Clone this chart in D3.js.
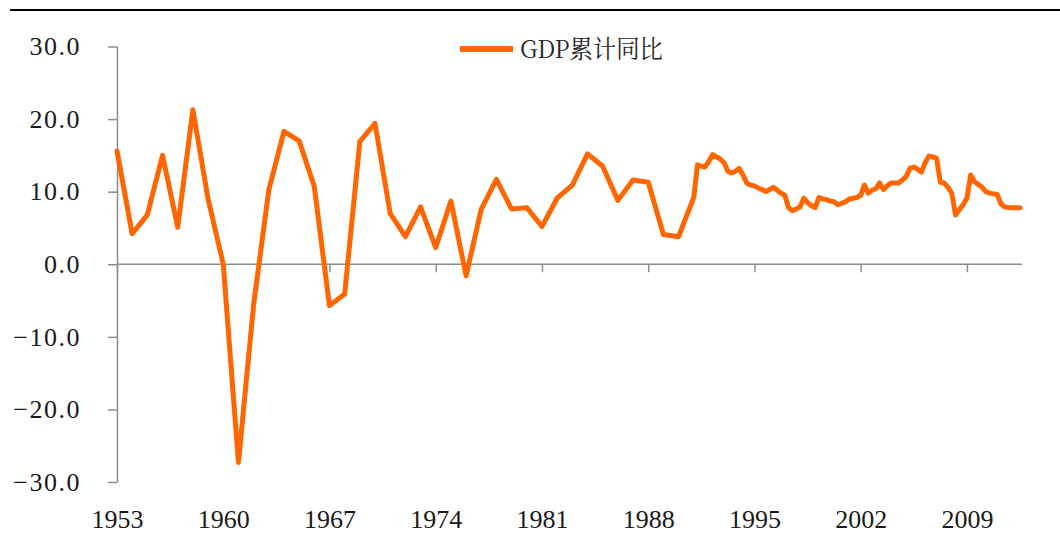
<!DOCTYPE html>
<html>
<head>
<meta charset="utf-8">
<script src="https://cdn.jsdelivr.net/npm/d3@7"></script>
<style>
  body { margin: 0; background: #fff; }
  svg { display: block; }
</style>
</head>
<body>
<svg id="chart" width="1060" height="544"></svg>
<script>
// annual growth 1953-1991, then cumulative quarterly yoy 1992Q1-2013Q2
var annualYears = d3.range(1953, 1992);
var annualGrowth = [15.6, 4.2, 6.8, 15.0, 5.1, 21.3, 9.0, 0.0, -27.3, -5.6,
                    10.2, 18.3, 17.0, 10.7, -5.7, -4.1, 16.9, 19.4, 7.0, 3.8,
                    7.9, 2.3, 8.7, -1.6, 7.6, 11.7, 7.6, 7.8, 5.2, 9.1,
                    10.9, 15.2, 13.5, 8.8, 11.6, 11.3, 4.1, 3.8, 9.2];

var quarterYears = d3.range(1992, 2014);
var quarterGrowth = [
  13.7, 13.5, 13.4, 14.2,   // 1992
  15.1, 14.8, 14.5, 14.0,   // 1993
  12.8, 12.6, 12.8, 13.2,   // 1994
  12.3, 11.2, 10.9, 10.8,   // 1995
  10.5, 10.3, 10.0, 10.3,   // 1996
  10.6, 10.2, 9.8, 9.5,     // 1997
  7.8, 7.4, 7.6, 7.9,       // 1998
  9.1, 8.5, 8.1, 7.8,       // 1999
  9.2, 9.0, 8.9, 8.7,       // 2000
  8.6, 8.2, 8.4, 8.6,       // 2001
  9.0, 9.1, 9.2, 9.5,       // 2002
  10.9, 9.8, 10.2, 10.4,    // 2003
  11.2, 10.3, 10.8, 11.2,   // 2004
  11.2, 11.2, 11.6, 12.1,   // 2005
  13.2, 13.4, 13.1, 12.7,   // 2006
  14.0, 14.9, 14.8, 14.6,   // 2007
  11.3, 11.2, 10.6, 9.8,    // 2008
  6.8, 7.5, 8.2, 9.1,       // 2009
  12.3, 11.4, 11.0, 10.6,   // 2010
  10.0, 9.8, 9.7, 9.6,      // 2011
  8.3, 7.9, 7.8, 7.8,       // 2012
  7.8, 7.8                  // 2013
];

var xTickYears = [1953, 1960, 1967, 1974, 1981, 1988, 1995, 2002, 2009];
var yTickValues = [-30, -20, -10, 0, 10, 20, 30];
var seriesName = "GDP累计同比";

// annual points sit on year end, quarterly points on quarter end
var points = [];
annualYears.forEach(function(y, i) {
  points.push({date: new Date(y, 11, 31), value: annualGrowth[i]});
});
quarterGrowth.forEach(function(v, i) {
  var y = quarterYears[Math.floor(i / 4)];
  var q = i % 4 + 1;
  points.push({date: new Date(y, q * 3, 0), value: v});
});

var svg = d3.select("#chart");
var lineColor = "#ff6600";
var axisColor = "#8c8c8c";
var textColor = "#1a1a1a";
var numFont = "Liberation Serif";

var x = d3.scaleTime()
  .domain([points[0].date, points[points.length - 1].date])
  .range([117, 1020]);
var y = d3.scaleLinear()
  .domain([-30, 30])
  .range([482, 46.5]);

// top rule
svg.append("line")
  .attr("x1", 10).attr("x2", 1060)
  .attr("y1", 10).attr("y2", 10)
  .attr("stroke", "#000").attr("stroke-width", 2);

// y axis
var yAxis = svg.append("g")
  .attr("transform", "translate(117,0)")
  .call(d3.axisLeft(y)
    .tickValues(yTickValues)
    .tickFormat(d3.format(".1f"))
    .tickSize(9)
    .tickSizeOuter(0)
    .tickPadding(27));
yAxis.attr("font-family", numFont).attr("font-size", 26);
yAxis.selectAll("path, line").attr("stroke", axisColor).attr("stroke-width", 1.5);
yAxis.selectAll("text")
  .attr("fill", textColor)
  .attr("font-family", numFont)
  .attr("letter-spacing", 1.5);

// x axis line at zero with short ticks
var tickDates = xTickYears.map(function(d) { return new Date(d, 11, 31); });
var xAxis = svg.append("g")
  .attr("transform", "translate(0," + y(0) + ")")
  .call(d3.axisBottom(x)
    .tickValues(tickDates)
    .tickFormat("")
    .tickSize(8)
    .tickSizeOuter(0));
xAxis.select(".domain").attr("d", "M" + x.range()[0] + ",0H" + (x.range()[1] + 2));
xAxis.selectAll("path, line").attr("stroke", axisColor).attr("stroke-width", 1.5);

// year labels at the bottom
var xLabels = svg.append("g")
  .attr("transform", "translate(0,500)")
  .call(d3.axisBottom(x)
    .tickValues(tickDates)
    .tickFormat(d3.timeFormat("%Y"))
    .tickSize(0)
    .tickPadding(0));
xLabels.attr("font-family", numFont).attr("font-size", 26);
xLabels.select(".domain").remove();
xLabels.selectAll("text")
  .attr("fill", textColor)
  .attr("font-family", numFont)
  .attr("dy", "0")
  .attr("y", 28);

// the series
var line = d3.line()
  .x(function(d) { return x(d.date); })
  .y(function(d) { return y(d.value); });

svg.append("path")
  .datum(points)
  .attr("d", line)
  .attr("fill", "none")
  .attr("stroke", lineColor)
  .attr("stroke-width", 5)
  .attr("stroke-linejoin", "round")
  .attr("stroke-linecap", "round");

// legend
var legend = svg.append("g").attr("transform", "translate(460,49)");
legend.append("line")
  .attr("x1", 0).attr("x2", 53)
  .attr("stroke", lineColor).attr("stroke-width", 6);
legend.append("text")
  .attr("x", 60)
  .attr("y", 9)
  .attr("fill", "#262626")
  .attr("textLength", 143)
  .attr("lengthAdjust", "spacingAndGlyphs")
  .attr("font-family", "Noto Serif CJK SC")
  .attr("font-size", 25)
  .text(seriesName);
</script>
</body>
</html>
